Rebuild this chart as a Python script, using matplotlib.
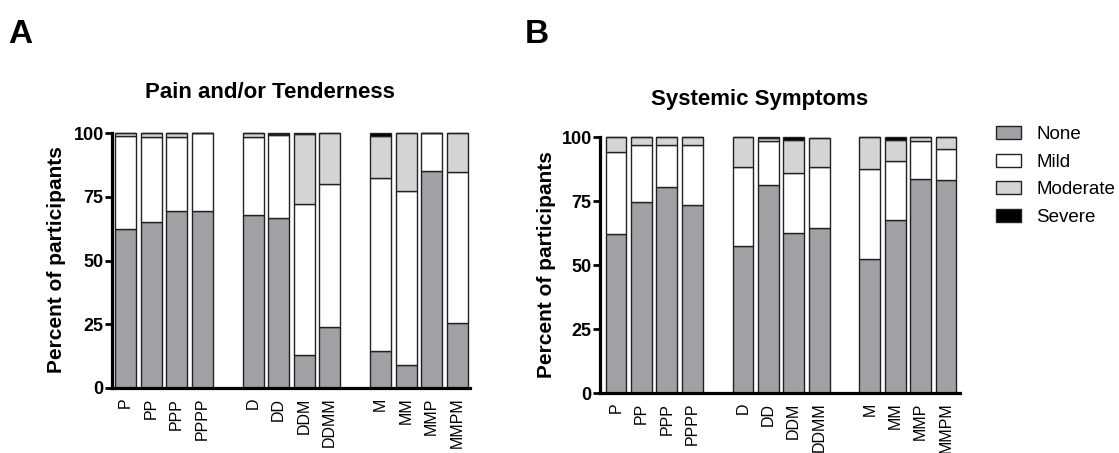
import matplotlib.pyplot as plt
from matplotlib.patches import Patch

plt.rcParams['font.family'] = ['Liberation Sans', 'DejaVu Sans']

# vaccine schedule groups (bars are drawn in groups of four)
groups = [['P', 'PP', 'PPP', 'PPPP'],
          ['D', 'DD', 'DDM', 'DDMM'],
          ['M', 'MM', 'MMP', 'MMPM']]
labels = [g for grp in groups for g in grp]

severity = ['None', 'Mild', 'Moderate', 'Severe']
colors = ['#a0a0a5', 'white', '#d4d4d4', 'black']

# Pain and/or Tenderness (percent of participants)
pain_none = [62.5, 65.0, 69.6, 69.6, 67.9, 66.6, 12.8, 24.1, 14.6, 8.9, 85.2, 25.4]
pain_mild = [36.4, 33.4, 28.8, 30.4, 30.5, 32.8, 59.2, 55.9, 67.9, 68.4, 14.8, 59.5]
pain_moderate = [1.1, 1.6, 1.6, 0.0, 1.6, 0.3, 27.5, 20.0, 16.5, 22.7, 0.0, 15.1]
pain_severe = [0.0, 0.0, 0.0, 0.0, 0.0, 0.3, 0.5, 0.0, 1.0, 0.0, 0.0, 0.0]

# Systemic Symptoms (percent of participants)
sys_none = [62.2, 74.8, 80.6, 73.4, 57.6, 81.1, 62.4, 64.6, 52.3, 67.6, 83.6, 83.2]
sys_mild = [31.9, 21.9, 16.1, 23.3, 30.8, 17.5, 23.7, 23.5, 35.2, 22.9, 14.7, 12.1]
sys_moderate = [5.9, 3.3, 3.3, 3.3, 11.6, 0.9, 12.9, 11.5, 12.5, 8.2, 1.7, 4.7]
sys_severe = [0.0, 0.0, 0.0, 0.0, 0.0, 0.5, 1.0, 0.0, 0.0, 1.3, 0.0, 0.0]

# x positions with an empty slot between groups
pos = []
for gi, grp in enumerate(groups):
    for j in range(len(grp)):
        pos.append(gi * (len(grp) + 1) + j)

W, H = 1119, 453
fig = plt.figure(figsize=(W / 100, H / 100), dpi=100)


def px_axes(left, right, top, bottom):
    return fig.add_axes([left / W, 1 - bottom / H, (right - left) / W, (bottom - top) / H])


def stacked(ax, series, xlim):
    bottom = [0.0] * len(pos)
    for vals, c in zip(series, colors):
        ax.bar(pos, vals, bottom=bottom, width=0.82, color=c,
               edgecolor='#222222', linewidth=1.0, clip_on=False)
        bottom = [b + v for b, v in zip(bottom, vals)]
    ax.set_ylim(0, 100)
    ax.set_xlim(*xlim)
    ax.set_yticks([0, 25, 50, 75, 100])
    ax.set_xticks(pos)
    ax.set_xticklabels(labels, rotation=90, fontsize=11.5)
    for s in ['top', 'right']:
        ax.spines[s].set_visible(False)
    for s in ['left', 'bottom']:
        ax.spines[s].set_linewidth(2.3)
    ax.tick_params(axis='x', length=0, pad=7)
    ax.tick_params(axis='y', length=5, width=2, pad=1, labelsize=13)
    for t in ax.get_yticklabels():
        t.set_fontweight('bold')


axA = px_axes(112, 470, 133, 388)
stacked(axA, [pain_none, pain_mild, pain_moderate, pain_severe], (-0.53, 13.5))
axB = px_axes(600, 960, 137, 393)
stacked(axB, [sys_none, sys_mild, sys_moderate, sys_severe], (-0.63, 13.55))

fig.text(270 / W, 1 - 92 / H, 'Pain and/or Tenderness', ha='center', va='center',
         fontsize=16, fontweight='bold')
fig.text(760 / W, 1 - 100 / H, 'Systemic Symptoms', ha='center', va='center',
         fontsize=16, fontweight='bold')
fig.text(56 / W, 1 - 260 / H, 'Percent of participants', rotation=90, ha='center',
         va='center', fontsize=15, fontweight='bold')
fig.text(546 / W, 1 - 265 / H, 'Percent of participants', rotation=90, ha='center',
         va='center', fontsize=15, fontweight='bold')
fig.text(8 / W, 1 - 43 / H, 'A', ha='left', va='baseline', fontsize=24, fontweight='bold')
fig.text(525 / W, 1 - 43 / H, 'B', ha='left', va='baseline', fontsize=24, fontweight='bold')

handles = [Patch(facecolor=c, edgecolor='#222222', linewidth=1.0) for c in colors]
fig.legend(handles, severity, loc='upper left', bbox_to_anchor=(996 / W, 1 - 126 / H),
           frameon=False, fontsize=13.5, handlelength=1.35, handleheight=0.72,
           handletextpad=0.8, labelspacing=0.55, borderpad=0, borderaxespad=0)

fig.savefig('out.png', dpi=100)
